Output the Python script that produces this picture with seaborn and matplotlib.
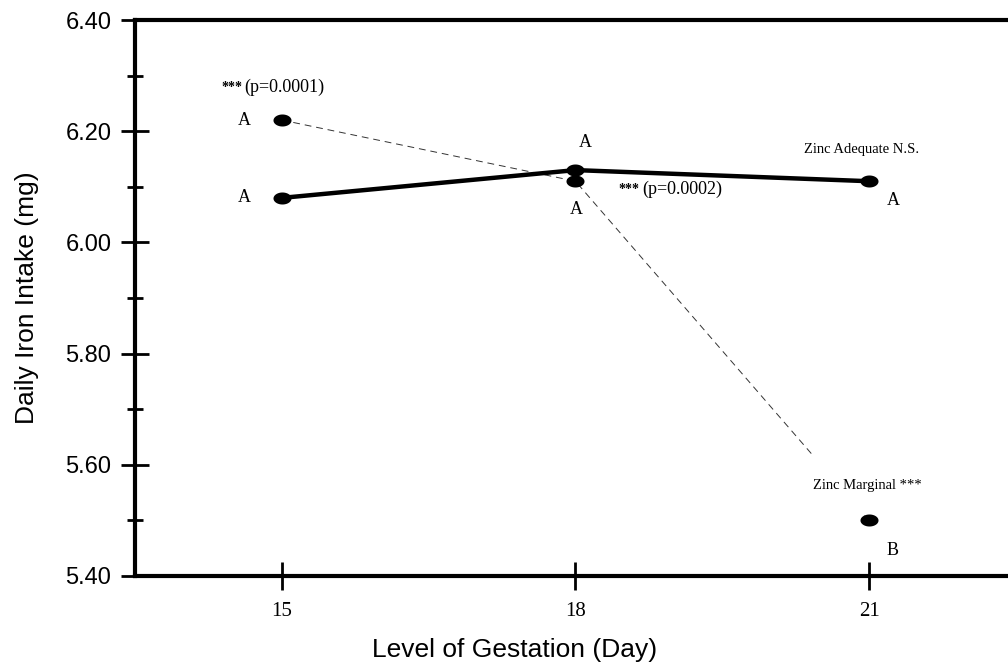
import numpy as np
import pandas as pd
import matplotlib
matplotlib.use('Agg')
import matplotlib.pyplot as plt
from matplotlib.ticker import MultipleLocator
import seaborn as sns

# values
days = [15, 18, 21]
zinc_adequate = [6.08, 6.13, 6.11]
zinc_marginal = [6.22, 6.11, 5.50]
adequate_letters = ['A', 'A', 'A']
marginal_letters = ['A', 'A', 'B']

df = pd.DataFrame({
    'day': days * 2,
    'iron': zinc_adequate + zinc_marginal,
    'group': ['Zinc Adequate'] * 3 + ['Zinc Marginal'] * 3,
})

sns.set_style("white")
plt.rcParams['font.family'] = ['Liberation Sans', 'DejaVu Sans']
plt.rcParams.update({'text.color': 'black', 'axes.labelcolor': 'black',
                     'xtick.color': 'black', 'ytick.color': 'black'})

fig = plt.figure(figsize=(10.08, 6.68), dpi=100)
ax = fig.add_axes([0.134, 0.138, 0.866, 0.832])

# ellipse marker (wider than tall)
t = np.linspace(0, 2 * np.pi, 40)
ell = list(zip(1.5 * np.cos(t), np.sin(t)))

adeq = df[df['group'] == 'Zinc Adequate']
marg = df[df['group'] == 'Zinc Marginal']

sns.lineplot(data=marg, x='day', y='iron', ax=ax, color='#333333', lw=0.7,
             linestyle=(0, (7, 5)), zorder=2)
sns.lineplot(data=adeq, x='day', y='iron', ax=ax, color='black', lw=3.2,
             zorder=3)
sns.scatterplot(data=df, x='day', y='iron', ax=ax, color='black',
                marker=ell, s=169, linewidth=0, zorder=5, legend=False)

ax.set_xlim(13.5, 22.42)
ax.set_ylim(5.40, 6.40)
ax.set_xticks(days)
ax.yaxis.set_major_locator(MultipleLocator(0.2))
ax.yaxis.set_minor_locator(MultipleLocator(0.1))
ax.set_yticklabels([f'{v:.2f}' for v in ax.get_yticks()])
ax.tick_params(axis='both', which='major', direction='inout', length=20,
               width=2, color='black', left=True, bottom=True)
ax.tick_params(axis='y', which='minor', direction='inout', length=12,
               width=2, color='black', left=True)
ax.tick_params(axis='y', labelsize=17, pad=7, labelcolor='black')
ax.tick_params(axis='x', labelsize=15, pad=9, labelcolor='black')
for lab in ax.get_xticklabels():
    lab.set_family('Liberation Serif')

for side in ['left', 'bottom', 'top']:
    ax.spines[side].set_linewidth(3)
    ax.spines[side].set_color('black')
ax.spines['right'].set_visible(False)

ax.set_xlabel('Level of Gestation (Day)', fontsize=19, color='black')
ax.set_ylabel('Daily Iron Intake (mg)', fontsize=19, color='black')
ax.xaxis.set_label_coords(0.435, -0.111)
ax.yaxis.set_label_coords(-0.110, 0.5)

serif = 'Liberation Serif'
# letters beside points
ax.text(days[0] - 0.38, zinc_marginal[0], marginal_letters[0], family=serif,
        fontsize=13, ha='center', va='center')
ax.text(days[0] - 0.38, zinc_adequate[0], adequate_letters[0], family=serif,
        fontsize=13, ha='center', va='center')
ax.text(days[1] + 0.1, zinc_adequate[1] + 0.05, adequate_letters[1],
        family=serif, fontsize=13, ha='center', va='center')
ax.text(days[1] + 0.01, zinc_marginal[1] - 0.05, marginal_letters[1],
        family=serif, fontsize=13, ha='center', va='center')
ax.text(days[2] + 0.25, zinc_adequate[2] - 0.035, adequate_letters[2],
        family=serif, fontsize=13, ha='center', va='center')
ax.text(days[2] + 0.24, zinc_marginal[2] - 0.055, marginal_letters[2],
        family=serif, fontsize=13, ha='center', va='center')

# significance notes
ax.text(14.38, 6.279, '***', family=serif, fontsize=10, fontweight='bold',
        ha='left', va='center')
ax.text(14.62, 6.279, '(p=0.0001)', family=serif, fontsize=13,
        ha='left', va='center')
ax.text(18.44, 6.095, '***', family=serif, fontsize=10, fontweight='bold',
        ha='left', va='center')
ax.text(18.68, 6.095, '(p=0.0002)', family=serif, fontsize=13,
        ha='left', va='center')
ax.text(20.34, 6.167, 'Zinc Adequate N.S.', family=serif, fontsize=10.5,
        ha='left', va='center')
# white box hides the end of the dashed line, as in the original
ax.text(20.43, 5.563, 'Zinc Marginal ***', family=serif, fontsize=10.5,
        ha='left', va='center',
        bbox=dict(facecolor='white', edgecolor='none', pad=17), zorder=4)

plt.savefig('out.png', dpi=100)
